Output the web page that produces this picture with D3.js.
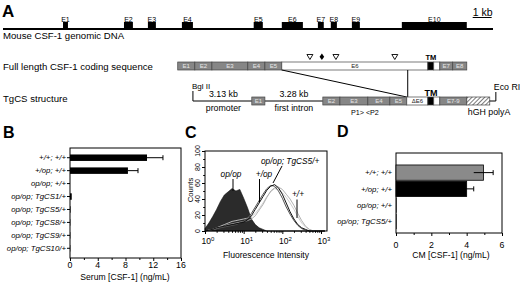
<!DOCTYPE html>
<html><head><meta charset="utf-8">
<script src="https://cdn.jsdelivr.net/npm/d3@7"></script>
<style>
body{margin:0;background:#fff}
text{font-family:Arial,"Liberation Sans",Helvetica,sans-serif}
</style>
</head><body>
<svg id="c" width="520" height="282" xmlns="http://www.w3.org/2000/svg"></svg>
<script>
// ---------- Panel A data (positions in kb along the drawing) ----------
const genomicLength = 25.8;
const genomicExons = ["E1","E2","E3","E4","E5","E6","E7","E8","E9","E10"];
const genomicStart = [3.16,6.37,7.63,9.42,13.2,14.68,16.58,17.26,18.37,21.0];
const genomicEnd   = [3.42,6.84,8.05,10.0,13.68,15.79,16.89,17.58,18.79,24.42];

const cdsLabels = ["E1","E2","E3","E4","E5","E6","","","E7","E8"];
const cdsStart  = [9.2,10.1,11.0,12.89,13.79,14.68,22.37,22.68,23.0,23.68];
const cdsEnd    = [10.1,11.0,12.89,13.79,14.68,22.37,22.68,23.0,23.68,24.42];
const cdsKind   = ["g","g","g","g","g","w","b","w","g","g"];
const cdsMarks  = [16.16,16.79,17.53,20.63];
const cdsMarkKind = ["tri","dia","tri","tri"];

const tgLabels = ["E2","E3","E4","E5","\u0394E6","","","E7-9",""];
const tgStart  = [16.84,17.74,19.21,20.37,21.26,22.37,22.68,23.0,24.42];
const tgEnd    = [17.74,19.21,20.37,21.26,22.37,22.68,23.0,24.42,25.63];
const tgKind   = ["g","g","g","g","w","b","w","g","h"];
const tgE1 = [13.1, 13.79];
const bglII = 10.0, ecoRI = 25.95, e6Junction = 21.31, tmPos = 22.53;
const scaleBar = [24.73, 25.73];

// ---------- Panel B data ----------
const serumCats = ["+/+; +/+","+/op; +/+","op/op; +/+","op/op; TgCS1/+","op/op; TgCS5/+","op/op; TgCS8/+","op/op; TgCS9/+","op/op; TgCS10/+"];
const serumVals = [11.1, 8.35, 0, 0.25, 0.08, 0.05, 0.05, 0.05];
const serumErr  = [2.3, 1.45, 0, 0, 0, 0, 0, 0];
const serumTicks = [0,4,8,12,16];

// ---------- Panel C data (log10 fluorescence bins, counts) ----------
const logBins = [0.0,0.1,0.2,0.3,0.4,0.5,0.6,0.7,0.8,0.9,1.0,1.1,1.2,1.3,1.4,1.5,1.6,1.7,1.8,1.9,2.0,2.1,2.2,2.3,2.4,2.5,2.6,2.7,2.8,2.9,3.0,3.1];
const histOpOp  = [3,10,18,27,37,45,49,53,50,52,41,29,15,8,4,2,0,0,0,0,0,0,0,0,0,0,0,0,0,0,0,0];
const histHetOp = [0,1,2,3,4,5,6,7,8,10,12,16,22,30,38,46,53,57,56,50,41,30,21,13,7,3,1,0,0,0,0,0];
const histTgCS5 = [0,1,2,4,5,6,7,8,9,10,11,14,19,27,35,43,51,56,58,54,46,35,24,15,8,4,2,0,0,0,0,0];
const histWT    = [0,1,2,3,5,6,8,9,10,11,12,13,15,19,26,33,42,50,54,55,52,46,40,32,22,13,6,2,0,0,0,0];
const histWT2   = [0,1,2,4,6,8,10,12,13,14,15,16,18,22,28,35,43,49,53,52,48,42,35,27,18,10,5,2,0,0,0,0];
const histTicks = [1,10,100,1000];
const countTicks = [0,20,40,60,80,100];

// ---------- Panel D data ----------
const cmCats = ["+/+; +/+","+/op; +/+","op/op; +/+","op/op; TgCS5/+"];
const cmVals = [4.95, 4.0, 0.02, 0.02];
const cmErr  = [0.55, 0.4, 0, 0];
const cmTicks = [0,2,4,6];

const svg = d3.select("#c");
const serif = '"Liberation Serif","Times New Roman",serif';

// ================= Panel A =================
const xA = d3.scaleLinear().domain([0, genomicLength]).range([3, 493]);
svg.append("text").attr("x",2).attr("y",17).attr("font-size",17).attr("font-weight","bold").text("A");

svg.append("line").attr("x1",xA(0)).attr("x2",xA(genomicLength)).attr("y1",29).attr("y2",29)
  .attr("stroke","#000").attr("stroke-width",2);
genomicExons.forEach((e,i)=>{
  svg.append("rect").attr("x",xA(genomicStart[i])).attr("y",22)
    .attr("width",xA(genomicEnd[i])-xA(genomicStart[i])).attr("height",7.5).attr("fill","#000");
  svg.append("text").attr("x",(xA(genomicStart[i])+xA(genomicEnd[i]))/2).attr("y",21.5)
    .attr("text-anchor","middle").attr("font-size",7).text(e);
});
svg.append("text").attr("x",xA(scaleBar[0])).attr("y",15.5).attr("font-family",serif).attr("font-size",10.5).text("1 kb");
svg.append("line").attr("x1",xA(scaleBar[0])).attr("x2",xA(scaleBar[1])).attr("y1",17.5).attr("y2",17.5).attr("stroke","#000");
svg.append("text").attr("x",3).attr("y",39).attr("font-size",9.6).text("Mouse CSF-1 genomic DNA");

// coding sequence
svg.append("text").attr("x",3).attr("y",69.5).attr("font-size",9.6).text("Full length CSF-1 coding sequence");
const fillOf = k => k==="g" ? "#868686" : k==="b" ? "#000" : k==="h" ? "url(#hatch)" : "#fff";
const defs = svg.append("defs");
const pat = defs.append("pattern").attr("id","hatch").attr("patternUnits","userSpaceOnUse")
  .attr("width",3).attr("height",3).attr("patternTransform","rotate(45)");
pat.append("rect").attr("width",3).attr("height",3).attr("fill","#fff");
pat.append("line").attr("x1",0).attr("y1",0).attr("x2",0).attr("y2",3).attr("stroke","#333").attr("stroke-width",1.3);

function drawSegs(labels, starts, ends, kinds, y, h){
  labels.forEach((l,i)=>{
    svg.append("rect").attr("x",xA(starts[i])).attr("y",y)
      .attr("width",xA(ends[i])-xA(starts[i])).attr("height",h)
      .attr("fill",fillOf(kinds[i])).attr("stroke","#444").attr("stroke-width",0.7);
    if(l) svg.append("text").attr("x",(xA(starts[i])+xA(ends[i]))/2).attr("y",y+h/2+2.2)
      .attr("text-anchor","middle").attr("font-size",6)
      .attr("fill",kinds[i]==="g"?"#e8e8e8":"#222").text(l);
  });
}
drawSegs(cdsLabels, cdsStart, cdsEnd, cdsKind, 62, 8);
cdsMarks.forEach((m,i)=>{
  const x = xA(m);
  if(cdsMarkKind[i]==="tri")
    svg.append("path").attr("d",`M${x-3},54.5 L${x+3},54.5 L${x},59.5 Z`).attr("fill","#fff").attr("stroke","#000").attr("stroke-width",0.9);
  else
    svg.append("path").attr("d",`M${x},53.5 L${x+2.3},56.8 L${x},60 L${x-2.3},56.8 Z`).attr("fill","#000");
});
svg.append("text").attr("x",xA(tmPos)).attr("y",60).attr("text-anchor","middle").attr("font-size",7.5).attr("font-weight","bold").text("TM");

// connecting lines
svg.append("line").attr("x1",xA(cdsStart[5])).attr("y1",70).attr("x2",xA(tgStart[4])).attr("y2",97).attr("stroke","#000").attr("stroke-width",1);
svg.append("line").attr("x1",xA(e6Junction)).attr("y1",70).attr("x2",xA(e6Junction)).attr("y2",97).attr("stroke","#000").attr("stroke-width",1);

// TgCS structure
svg.append("text").attr("x",3).attr("y",102).attr("font-size",9.6).text("TgCS structure");
svg.append("text").attr("x",xA(bglII)-1).attr("y",89).attr("font-size",8).text("Bgl II");
svg.append("path").attr("d",`M${xA(bglII)},91 V101 H${xA(tgE1[0])} M${xA(tgE1[1])},101 H${xA(tgStart[0])}`)
  .attr("fill","none").attr("stroke","#000").attr("stroke-width",1);
svg.append("rect").attr("x",xA(tgE1[0])).attr("y",97).attr("width",xA(tgE1[1])-xA(tgE1[0])).attr("height",8)
  .attr("fill","#868686").attr("stroke","#444").attr("stroke-width",0.7);
svg.append("text").attr("x",(xA(tgE1[0])+xA(tgE1[1]))/2).attr("y",103.2).attr("text-anchor","middle").attr("font-size",6).attr("fill","#e8e8e8").text("E1");
svg.append("text").attr("x",(xA(bglII)+xA(tgE1[0]))/2+1).attr("y",97).attr("text-anchor","middle").attr("font-size",8.8).text("3.13 kb");
svg.append("text").attr("x",(xA(bglII)+xA(tgE1[0]))/2+1).attr("y",110.5).attr("text-anchor","middle").attr("font-size",8.8).text("promoter");
svg.append("text").attr("x",(xA(tgE1[1])+xA(tgStart[0]))/2).attr("y",97).attr("text-anchor","middle").attr("font-size",8.8).text("3.28 kb");
svg.append("text").attr("x",(xA(tgE1[1])+xA(tgStart[0]))/2).attr("y",110.5).attr("text-anchor","middle").attr("font-size",8.8).text("first intron");
drawSegs(tgLabels, tgStart, tgEnd, tgKind, 97, 8);
svg.append("text").attr("x",xA(tmPos)).attr("y",96).attr("text-anchor","middle").attr("font-size",9).attr("font-weight","bold").text("TM");
svg.append("text").attr("x",(xA(tgStart[1])+xA(tgStart[3]))/2).attr("y",115).attr("text-anchor","middle").attr("font-size",7.2).text("P1> <P2");
svg.append("text").attr("x",xA(tgStart[8])+1).attr("y",115).attr("font-size",8.8).text("hGH polyA");
svg.append("path").attr("d",`M${xA(tgEnd[8])},101 H${xA(ecoRI)} V92`).attr("fill","none").attr("stroke","#000");
svg.append("text").attr("x",xA(ecoRI)-2).attr("y",90).attr("font-size",8.8).text("Eco RI");

// ================= Panel B =================
svg.append("text").attr("x",3).attr("y",138).attr("font-size",16).attr("font-weight","bold").text("B");
const xB = d3.scaleLinear().domain([0,16]).range([70,181]);
const yB = d3.scaleBand().domain(serumCats).range([148,258]).padding(0.5);
const gB = svg.append("g");
gB.append("rect").attr("x",70).attr("y",148).attr("width",111).attr("height",110).attr("fill","none").attr("stroke","#000").attr("stroke-width",1);
serumCats.forEach((c,i)=>{
  const y = yB(c), h = yB.bandwidth();
  if(serumVals[i]>0) gB.append("rect").attr("x",xB(0)).attr("y",y).attr("width",xB(serumVals[i])-xB(0)).attr("height",h).attr("fill","#000");
  if(serumErr[i]>0){
    const xe = xB(serumVals[i]+serumErr[i]);
    gB.append("line").attr("x1",xB(serumVals[i])).attr("x2",xe).attr("y1",y+h/2).attr("y2",y+h/2).attr("stroke","#000");
    gB.append("line").attr("x1",xe).attr("x2",xe).attr("y1",y+h/2-2.5).attr("y2",y+h/2+2.5).attr("stroke","#000");
  }
  gB.append("line").attr("x1",67).attr("x2",70).attr("y1",y+h/2).attr("y2",y+h/2).attr("stroke","#000");
  gB.append("text").attr("x",66).attr("y",y+h/2+2.7).attr("text-anchor","end").attr("font-size",7.8).attr("font-style","italic").text(c);
});
gB.append("g").attr("transform","translate(0,258)")
  .call(d3.axisBottom(xB).tickValues(serumTicks).tickSize(3).tickFormat(""))
  .call(g=>g.select(".domain").remove());
gB.append("g").attr("transform","translate(0,258)")
  .call(d3.axisBottom(xB).tickValues([2,6,10,14]).tickSize(2).tickFormat(""))
  .call(g=>g.select(".domain").remove());
serumTicks.forEach(t=>svg.append("text").attr("x",xB(t)).attr("y",268).attr("text-anchor","middle").attr("font-size",8.8).text(t));
svg.append("text").attr("x",125).attr("y",279.5).attr("text-anchor","middle").attr("font-size",8.6).text("Serum [CSF-1] (ng/mL)");

// ================= Panel C =================
svg.append("text").attr("x",185).attr("y",138).attr("font-size",16).attr("font-weight","bold").text("C");
const xC = d3.scaleLog().domain([1, Math.pow(10,3.155)]).range([205,327]);
const yC = d3.scaleLinear().domain([0,100]).range([231,151]);
const pts = arr => arr.map((v,i)=>({l:logBins[i], v}));
const areaC = d3.area().x(d=>xC(Math.pow(10,d.l))).y0(yC(0)).y1(d=>yC(d.v));
const lineC = d3.line().x(d=>xC(Math.pow(10,d.l))).y(d=>yC(d.v));
svg.append("path").attr("d",areaC(pts(histOpOp))).attr("fill","#2b2b2b").attr("stroke","#111").attr("stroke-width",0.6);
[[histWT2,"#c8c8c8",0.9],[histWT,"#a8a8a8",0.9],[histHetOp,"#555",1],[histTgCS5,"#111",1]].forEach(([h,c,w])=>{
  svg.append("path").attr("d",lineC(pts(h))).attr("fill","none").attr("stroke",c).attr("stroke-width",w);
});
svg.append("rect").attr("x",205).attr("y",151).attr("width",122).attr("height",80).attr("fill","none").attr("stroke","#000").attr("stroke-width",1);
const gCx = svg.append("g").attr("transform","translate(0,231)");
gCx.call(d3.axisBottom(xC).tickValues(histTicks).tickSize(3).tickFormat(""));
gCx.select(".domain").remove();
const minor = [];
[1,10,100,1000].forEach(b=>[2,3,4,5,6,7,8,9].forEach(m=>{ if(b*m<=xC.domain()[1]) minor.push(b*m); }));
svg.append("g").attr("transform","translate(0,231)").call(d3.axisBottom(xC).tickValues(minor).tickSize(1.8).tickFormat("")).call(g=>g.select(".domain").remove());
histTicks.forEach((t,i)=>{
  const tx = svg.append("text").attr("x",xC(t)+3).attr("y",244).attr("text-anchor","middle").attr("font-size",8.5);
  tx.append("tspan").text("10");
  tx.append("tspan").attr("font-size",6).attr("dy",-3.5).text(String(i));
});
svg.append("text").attr("x",266).attr("y",257.5).attr("text-anchor","middle").attr("font-size",8.6).text("Fluorescence Intensity");
svg.append("g").attr("transform","translate(205,0)")
  .call(d3.axisLeft(yC).tickValues(countTicks).tickSize(3).tickFormat(""))
  .call(g=>g.select(".domain").remove());
svg.append("g").attr("transform","translate(205,0)")
  .call(d3.axisLeft(yC).tickValues([10,30,50,70,90]).tickSize(1.8).tickFormat(""))
  .call(g=>g.select(".domain").remove());
countTicks.forEach(t=>{
  svg.append("text").attr("transform",`translate(200,${yC(t)}) rotate(-90)`).attr("text-anchor","middle").attr("font-size",7).text(t);
});
svg.append("text").attr("transform","translate(193,190) rotate(-90)").attr("text-anchor","middle").attr("font-size",7.8).text("Counts");
const lab = (x,y,t,anchor)=>svg.append("text").attr("x",x).attr("y",y).attr("text-anchor",anchor||"middle").attr("font-size",8.3).attr("font-style","italic").text(t);
lab(231,177,"op/op");
svg.append("line").attr("x1",233).attr("x2",233).attr("y1",179).attr("y2",191).attr("stroke","#000");
lab(264,177,"+/op");
svg.append("line").attr("x1",259.5).attr("x2",259.5).attr("y1",179).attr("y2",202).attr("stroke","#000");
lab(261,164,"op/op; TgCS5/+","start");
svg.append("line").attr("x1",282).attr("x2",273).attr("y1",166).attr("y2",183).attr("stroke","#000");
lab(298,197,"+/+");
svg.append("line").attr("x1",297).attr("x2",297).attr("y1",199.5).attr("y2",218).attr("stroke","#000");

// ================= Panel D =================
svg.append("text").attr("x",337).attr("y",137).attr("font-size",16).attr("font-weight","bold").text("D");
const xD = d3.scaleLinear().domain([0,6]).range([396,502]);
const yD = d3.scaleBand().domain(cmCats).range([164,230]).padding(0.06);
svg.append("rect").attr("x",396).attr("y",153).attr("width",106).attr("height",80).attr("fill","none").attr("stroke","#000").attr("stroke-width",1);
cmCats.forEach((c,i)=>{
  const y = yD(c), h = yD.bandwidth();
  svg.append("rect").attr("x",xD(0)).attr("y",y).attr("width",Math.max(0.6,xD(cmVals[i])-xD(0))).attr("height",h)
    .attr("fill", i===0 ? "#8a8a8a" : "#000").attr("stroke","#000").attr("stroke-width", i<2 ? 0.8 : 0);
  if(cmErr[i]>0){
    const xe = xD(cmVals[i]+cmErr[i]), xl = xD(cmVals[i]-cmErr[i]);
    svg.append("line").attr("x1",xl).attr("x2",xe).attr("y1",y+h/2).attr("y2",y+h/2).attr("stroke","#000");
    svg.append("line").attr("x1",xe).attr("x2",xe).attr("y1",y+h/2-2.5).attr("y2",y+h/2+2.5).attr("stroke","#000");
  }
  svg.append("text").attr("x",392).attr("y",y+h/2+2.7).attr("text-anchor","end").attr("font-size",7.8).attr("font-style","italic").text(c);
});
svg.append("g").attr("transform","translate(0,233)")
  .call(d3.axisBottom(xD).tickValues(cmTicks).tickSize(3).tickFormat(""))
  .call(g=>g.select(".domain").remove());
svg.append("g").attr("transform","translate(0,233)")
  .call(d3.axisBottom(xD).tickValues([1,3,5]).tickSize(2).tickFormat(""))
  .call(g=>g.select(".domain").remove());
cmTicks.forEach(t=>svg.append("text").attr("x",xD(t)).attr("y",247.5).attr("text-anchor","middle").attr("font-size",8.8).text(t));
svg.append("text").attr("x",451).attr("y",258).attr("text-anchor","middle").attr("font-size",8.6).text("CM [CSF-1] (ng/mL)");
</script>
</body></html>
